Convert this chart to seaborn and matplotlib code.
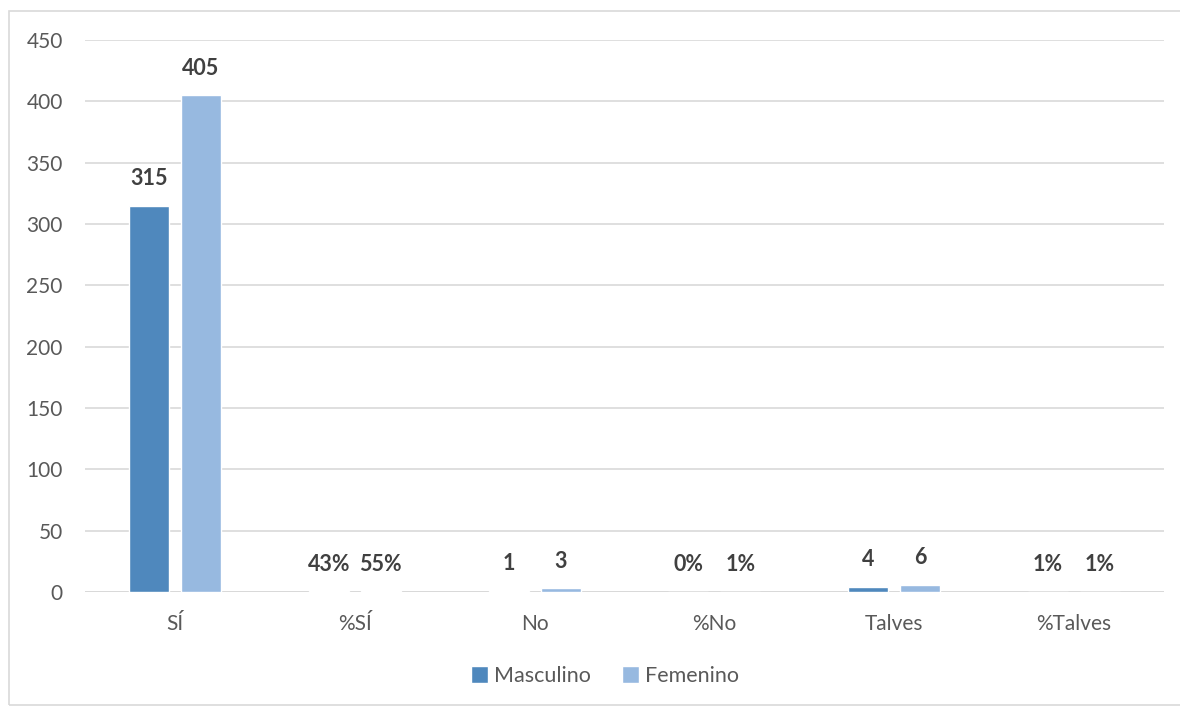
import matplotlib
matplotlib.use("Agg")
import matplotlib.pyplot as plt
from matplotlib.patches import Rectangle
import seaborn as sns
import pandas as pd

categorias = ["SÍ", "%SÍ", "No", "%No", "Talves", "%Talves"]
masculino = [315, 0.43, 1, 0.00, 4, 0.01]
femenino = [405, 0.55, 3, 0.01, 6, 0.01]
series = ["Masculino", "Femenino"]
colores = ["#4F88BD", "#97B9E0"]

def etiqueta(cat, v):
    return f"{v * 100:.0f}%" if cat.startswith("%") else f"{v:g}"

df = pd.DataFrame({
    "categoria": categorias * 2,
    "valor": masculino + femenino,
    "serie": [series[0]] * len(categorias) + [series[1]] * len(categorias),
})

sns.set_theme(style="white")
plt.rcParams["font.family"] = ["Lato", "DejaVu Sans"]

fig = plt.figure(figsize=(11.8, 7.07), dpi=100)
ax = fig.add_axes([85 / 1180, 1 - 592 / 707, 1079 / 1180, 552 / 707])

sns.barplot(data=df, x="categoria", y="valor", hue="serie", order=categorias,
            hue_order=series, palette=colores, width=0.578, gap=0.23,
            saturation=1, ax=ax, legend=True)

ax.set_ylim(0, 450)
ax.set_yticks(range(0, 451, 50))
ax.set_xlim(-0.5, len(categorias) - 0.5)
ax.yaxis.grid(True, color="#D9D9D9", linewidth=1.2)
ax.set_axisbelow(True)
for s in ax.spines.values():
    s.set_visible(False)
ax.axhline(0, color="#D9D9D9", linewidth=1.4, zorder=0.5)
ax.set_xlabel("")
ax.set_ylabel("")
ax.tick_params(axis="both", length=0, labelsize=15, colors="#595959")
ax.tick_params(axis="x", pad=16)
ax.tick_params(axis="y", pad=16)

for cont, vals in zip(ax.containers, [masculino, femenino]):
    labels = [etiqueta(c, v) for c, v in zip(categorias, vals)]
    ax.bar_label(cont, labels=labels, padding=12, fontsize=15.5,
                 fontweight="bold", color="#404040")

handles, labs = ax.get_legend_handles_labels()
ax.legend(handles, labs, loc="center", bbox_to_anchor=(605 / 1180, 1 - 676 / 707),
          bbox_transform=fig.transFigure, ncol=2, frameon=False,
          fontsize=15.5, labelcolor="#595959", handlelength=0.8,
          handleheight=0.8, handletextpad=0.3, columnspacing=1.4)

fig.patches.append(Rectangle((9 / 1180, 2 / 707), 1180, (707 - 13) / 707,
                             transform=fig.transFigure, fill=False,
                             edgecolor="#D9D9D9", linewidth=1.2))

fig.savefig("out.png", dpi=100, facecolor="white")
